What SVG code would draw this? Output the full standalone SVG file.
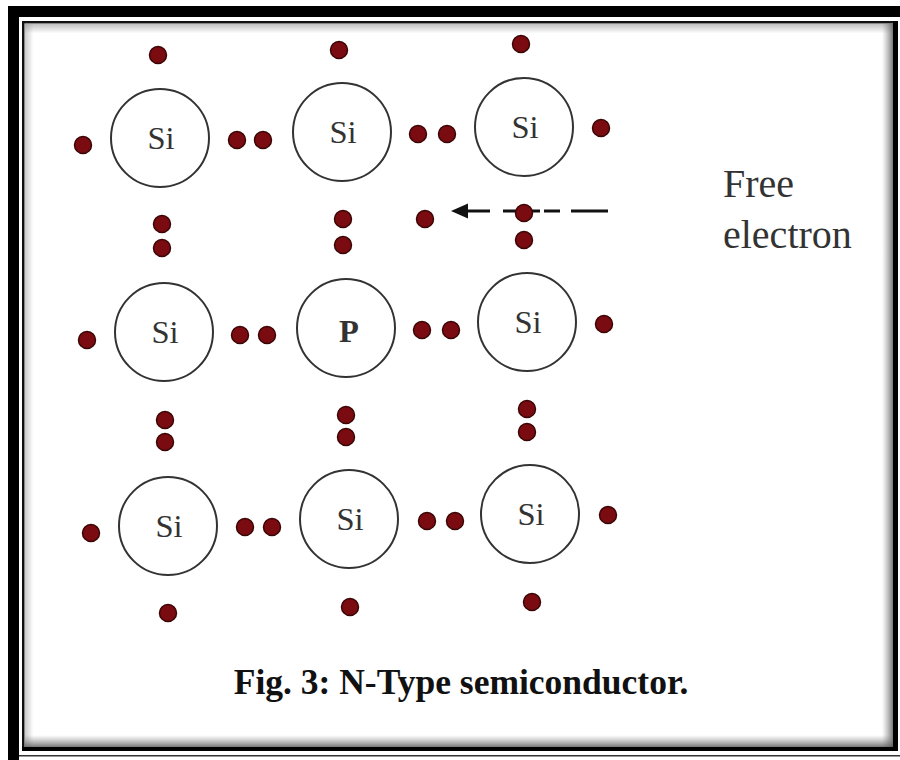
<svg xmlns="http://www.w3.org/2000/svg" width="900" height="760" viewBox="0 0 900 760">
<defs>
<style>
.atom{fill:none;stroke:#333;stroke-width:2}
.lbl{font-family:"Liberation Serif","Times New Roman",serif;font-size:32.5px;fill:#333;text-anchor:middle}
.e{fill:#7a0b10;stroke:#3c0606;stroke-width:1.5}
.dash{stroke:#111;stroke-width:3;fill:none}
.note{font-family:"Liberation Serif","Times New Roman",serif;font-size:40px;fill:#333}
.cap{font-family:"Liberation Serif","Times New Roman",serif;font-size:35.5px;font-weight:bold;fill:#111;text-anchor:middle}
</style>
<linearGradient id="gT" x1="0" y1="0" x2="0" y2="1"><stop offset="0" stop-color="#888" stop-opacity="0.55"/><stop offset="1" stop-color="#888" stop-opacity="0"/></linearGradient>
<linearGradient id="gL" x1="0" y1="0" x2="1" y2="0"><stop offset="0" stop-color="#888" stop-opacity="0.45"/><stop offset="1" stop-color="#888" stop-opacity="0"/></linearGradient>
<linearGradient id="gR" x1="1" y1="0" x2="0" y2="0"><stop offset="0" stop-color="#555" stop-opacity="0.8"/><stop offset="1" stop-color="#888" stop-opacity="0"/></linearGradient>
<linearGradient id="gB" x1="0" y1="1" x2="0" y2="0"><stop offset="0" stop-color="#555" stop-opacity="0.8"/><stop offset="1" stop-color="#888" stop-opacity="0"/></linearGradient>
</defs>
<rect width="900" height="760" fill="#fff"/>
<g id="frame">
<rect x="8" y="6" width="892" height="11" fill="#000"/>
<rect x="8" y="6" width="11" height="754" fill="#000"/>
<rect x="22" y="21" width="876" height="2.5" fill="#111"/>
<rect x="22" y="21" width="2.5" height="730" fill="#111"/>
<rect x="893" y="21" width="5" height="730" fill="#000"/>
<rect x="22" y="747" width="876" height="4" fill="#000"/>
<rect x="19" y="755" width="881" height="1.5" fill="#333"/>
<rect x="24.5" y="23.5" width="868.5" height="10" fill="url(#gT)"/>
<rect x="24.5" y="23.5" width="9" height="723.5" fill="url(#gL)"/>
<rect x="882" y="23.5" width="11" height="723.5" fill="url(#gR)"/>
<rect x="24.5" y="735" width="868.5" height="12" fill="url(#gB)"/>
</g>
<g id="connectors">
<line class="dash" x1="465" y1="211" x2="490" y2="211"/>
<line class="dash" x1="503" y1="211" x2="540" y2="211"/>
<line class="dash" x1="544" y1="211" x2="560" y2="211"/>
<line class="dash" x1="571" y1="211" x2="608" y2="211"/>
<polygon points="451,211 468,203.5 468,218.5" fill="#111"/>
</g>
<g id="atom-r1c1"><circle class="atom" cx="160" cy="138" r="49"/><text class="lbl" x="161" y="149">Si</text></g>
<g id="atom-r1c2"><circle class="atom" cx="342" cy="132" r="49"/><text class="lbl" x="343" y="143">Si</text></g>
<g id="atom-r1c3"><circle class="atom" cx="524" cy="127" r="49"/><text class="lbl" x="525" y="138">Si</text></g>
<g id="atom-r2c1"><circle class="atom" cx="164" cy="332" r="49"/><text class="lbl" x="165" y="343">Si</text></g>
<g id="atom-r2c2"><circle class="atom" cx="346" cy="328" r="49"/><text class="lbl" x="349" y="342" font-weight="bold" fill="#111">P</text></g>
<g id="atom-r2c3"><circle class="atom" cx="527" cy="322" r="49"/><text class="lbl" x="528" y="333">Si</text></g>
<g id="atom-r3c1"><circle class="atom" cx="168" cy="526" r="49"/><text class="lbl" x="169" y="537">Si</text></g>
<g id="atom-r3c2"><circle class="atom" cx="349" cy="519" r="49"/><text class="lbl" x="350" y="530">Si</text></g>
<g id="atom-r3c3"><circle class="atom" cx="530" cy="514" r="49"/><text class="lbl" x="531" y="525">Si</text></g>
<g id="electrons">
<circle class="e" cx="158" cy="55" r="8.5"/>
<circle class="e" cx="339" cy="50" r="8.5"/>
<circle class="e" cx="521" cy="44" r="8.5"/>
<circle class="e" cx="83" cy="145" r="8.5"/>
<circle class="e" cx="237" cy="140" r="8.5"/>
<circle class="e" cx="263" cy="140" r="8.5"/>
<circle class="e" cx="418" cy="134" r="8.5"/>
<circle class="e" cx="447" cy="134" r="8.5"/>
<circle class="e" cx="601" cy="128" r="8.5"/>
<circle class="e" cx="162" cy="224" r="8.5"/>
<circle class="e" cx="162" cy="248" r="8.5"/>
<circle class="e" cx="343" cy="219" r="8.5"/>
<circle class="e" cx="343" cy="245" r="8.5"/>
<circle class="e" cx="524" cy="213" r="8.5"/>
<circle class="e" cx="524" cy="240" r="8.5"/>
<circle class="e" cx="425" cy="219" r="8.5"/>
<circle class="e" cx="87" cy="340" r="8.5"/>
<circle class="e" cx="240" cy="335" r="8.5"/>
<circle class="e" cx="267" cy="335" r="8.5"/>
<circle class="e" cx="422" cy="330" r="8.5"/>
<circle class="e" cx="451" cy="330" r="8.5"/>
<circle class="e" cx="604" cy="324" r="8.5"/>
<circle class="e" cx="165" cy="420" r="8.5"/>
<circle class="e" cx="165" cy="442" r="8.5"/>
<circle class="e" cx="346" cy="415" r="8.5"/>
<circle class="e" cx="346" cy="437" r="8.5"/>
<circle class="e" cx="527" cy="409" r="8.5"/>
<circle class="e" cx="527" cy="432" r="8.5"/>
<circle class="e" cx="91" cy="533" r="8.5"/>
<circle class="e" cx="245" cy="527" r="8.5"/>
<circle class="e" cx="272" cy="527" r="8.5"/>
<circle class="e" cx="427" cy="521" r="8.5"/>
<circle class="e" cx="455" cy="521" r="8.5"/>
<circle class="e" cx="608" cy="515" r="8.5"/>
<circle class="e" cx="168" cy="613" r="8.5"/>
<circle class="e" cx="350" cy="607" r="8.5"/>
<circle class="e" cx="532" cy="602" r="8.5"/>
</g>
<g id="label-free-electron">
<text class="note" x="723" y="197">Free</text>
<text class="note" x="723" y="248">electron</text>
</g>
<g id="caption"><text class="cap" x="461" y="694">Fig. 3: N-Type semiconductor.</text></g>
</svg>
